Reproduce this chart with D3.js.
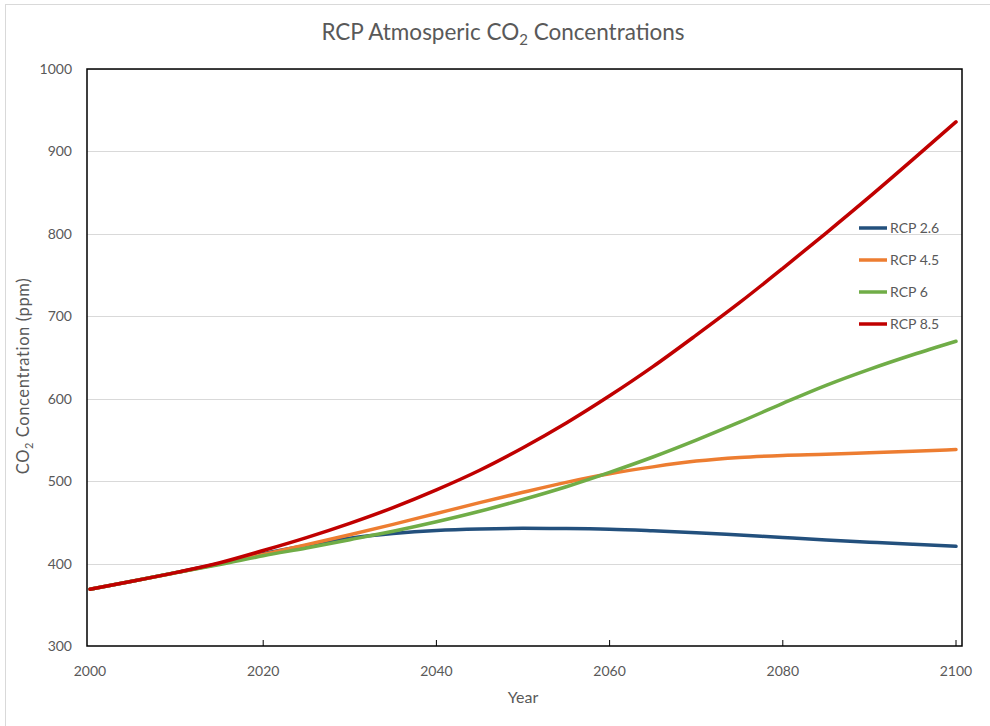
<!DOCTYPE html>
<html><head><meta charset="utf-8">
<script src="https://cdn.jsdelivr.net/npm/d3@7"></script>
<style>body{margin:0;background:#fff;font-family:Lato,"Open Sans",sans-serif;}</style>
</head><body><svg id="c" width="990" height="726"></svg>
<script>
const years = [2000,2005,2010,2015,2020,2025,2030,2035,2040,2045,2050,2055,2060,2065,2070,2075,2080,2085,2090,2095,2100];
const rcp26 = [368.9,378.8,389.3,400.1,412.1,422.0,430.8,436.5,440.2,442.0,442.7,442.5,441.7,439.8,437.5,434.6,431.6,428.7,426.0,423.4,420.9];
const rcp45 = [368.9,378.8,389.1,399.6,411.1,422.9,435.0,447.6,460.8,473.9,486.5,498.5,508.9,517.3,524.3,528.7,531.1,532.5,534.3,536.2,538.4];
const rcp6  = [368.9,378.8,389.1,398.8,409.4,418.9,428.9,439.2,450.7,463.4,477.7,493.2,510.6,529.3,549.8,571.5,594.3,616.2,635.6,653.3,669.7];
const rcp85 = [368.9,378.8,389.3,401.0,415.8,431.5,448.8,467.9,489.4,513.2,540.5,570.5,603.5,638.9,677.1,716.5,758.2,801.0,844.8,890.0,935.9];
const seriesNames = ["RCP 2.6","RCP 4.5","RCP 6","RCP 8.5"];
const seriesColors = ["#23507d","#ed7d31","#70ad47","#c00000"];
const xTicks = [2000,2020,2040,2060,2080,2100];
const yTicks = [300,400,500,600,700,800,900,1000];

const svg = d3.select("#c");
const L=87, R=962, T=69, B=646;
const x = d3.scaleLinear().domain([2000,2100]).range([90,956]);
const y = d3.scaleLinear().domain([300,1000]).range([B,T]);
const txt = "#595959";

svg.append("rect").attr("x",5.5).attr("y",4.5).attr("width",1000).attr("height",1000)
  .attr("fill","none").attr("stroke","#d9d9d9");

svg.append("g").selectAll("line").data(yTicks.slice(1)).join("line")
  .attr("x1",L).attr("x2",R).attr("y1",d=>Math.round(y(d))+0.5).attr("y2",d=>Math.round(y(d))+0.5)
  .attr("stroke","#d9d9d9").attr("stroke-width",1.2);

svg.append("g").selectAll("text").data(yTicks).join("text")
  .attr("x",72).attr("y",d=>y(d)+5).attr("text-anchor","end")
  .attr("font-size",14).attr("fill",txt).text(d=>d);

const xa = svg.append("g");
xa.selectAll("line").data(xTicks.slice(1)).join("line")
  .attr("x1",d=>x(d)).attr("x2",d=>x(d)).attr("y1",B).attr("y2",B-6)
  .attr("stroke","#000").attr("stroke-width",1);
xa.selectAll("text").data(xTicks).join("text")
  .attr("x",d=>x(d)).attr("y",B+30).attr("text-anchor","middle")
  .attr("font-size",14).attr("fill",txt).text(d=>d);

svg.append("rect").attr("x",L).attr("y",T).attr("width",R-L).attr("height",B-T)
  .attr("fill","none").attr("stroke","#000").attr("stroke-width",1.5);

const data = [rcp26,rcp45,rcp6,rcp85];
const line = d3.line().x((d,i)=>x(years[i])).y(d=>y(d)).curve(d3.curveMonotoneX);
data.forEach((s,k)=>{
  svg.append("path").datum(s).attr("d",line).attr("fill","none")
    .attr("stroke",seriesColors[k]).attr("stroke-width",3.5).attr("stroke-linecap","round");
});

const lg = svg.append("g");
seriesNames.forEach((n,k)=>{
  const ly = 228 + k*32;
  lg.append("line").attr("x1",859).attr("x2",887).attr("y1",ly).attr("y2",ly)
    .attr("stroke",seriesColors[k]).attr("stroke-width",3.5);
  lg.append("text").attr("x",890).attr("y",ly+5).attr("font-size",14).attr("fill",txt).text(n);
});

const t = svg.append("text").attr("x",503).attr("y",40).attr("text-anchor","middle")
  .attr("font-size",22.5).attr("fill",txt);
t.append("tspan").text("RCP Atmosperic CO");
t.append("tspan").attr("font-size",15).attr("dy",5).text("2");
t.append("tspan").attr("dy",-5).text(" Concentrations");

svg.append("text").attr("x",523).attr("y",703).attr("text-anchor","middle")
  .attr("font-size",16).attr("fill",txt).text("Year");
const yl = svg.append("text").attr("transform","translate(29,376) rotate(-90)")
  .attr("text-anchor","middle").attr("font-size",16.5).attr("letter-spacing",0.6).attr("fill",txt);
yl.append("tspan").text("CO");
yl.append("tspan").attr("font-size",11).attr("dy",4).text("2");
yl.append("tspan").attr("dy",-4).text(" Concentration (ppm)");
</script></body></html>
